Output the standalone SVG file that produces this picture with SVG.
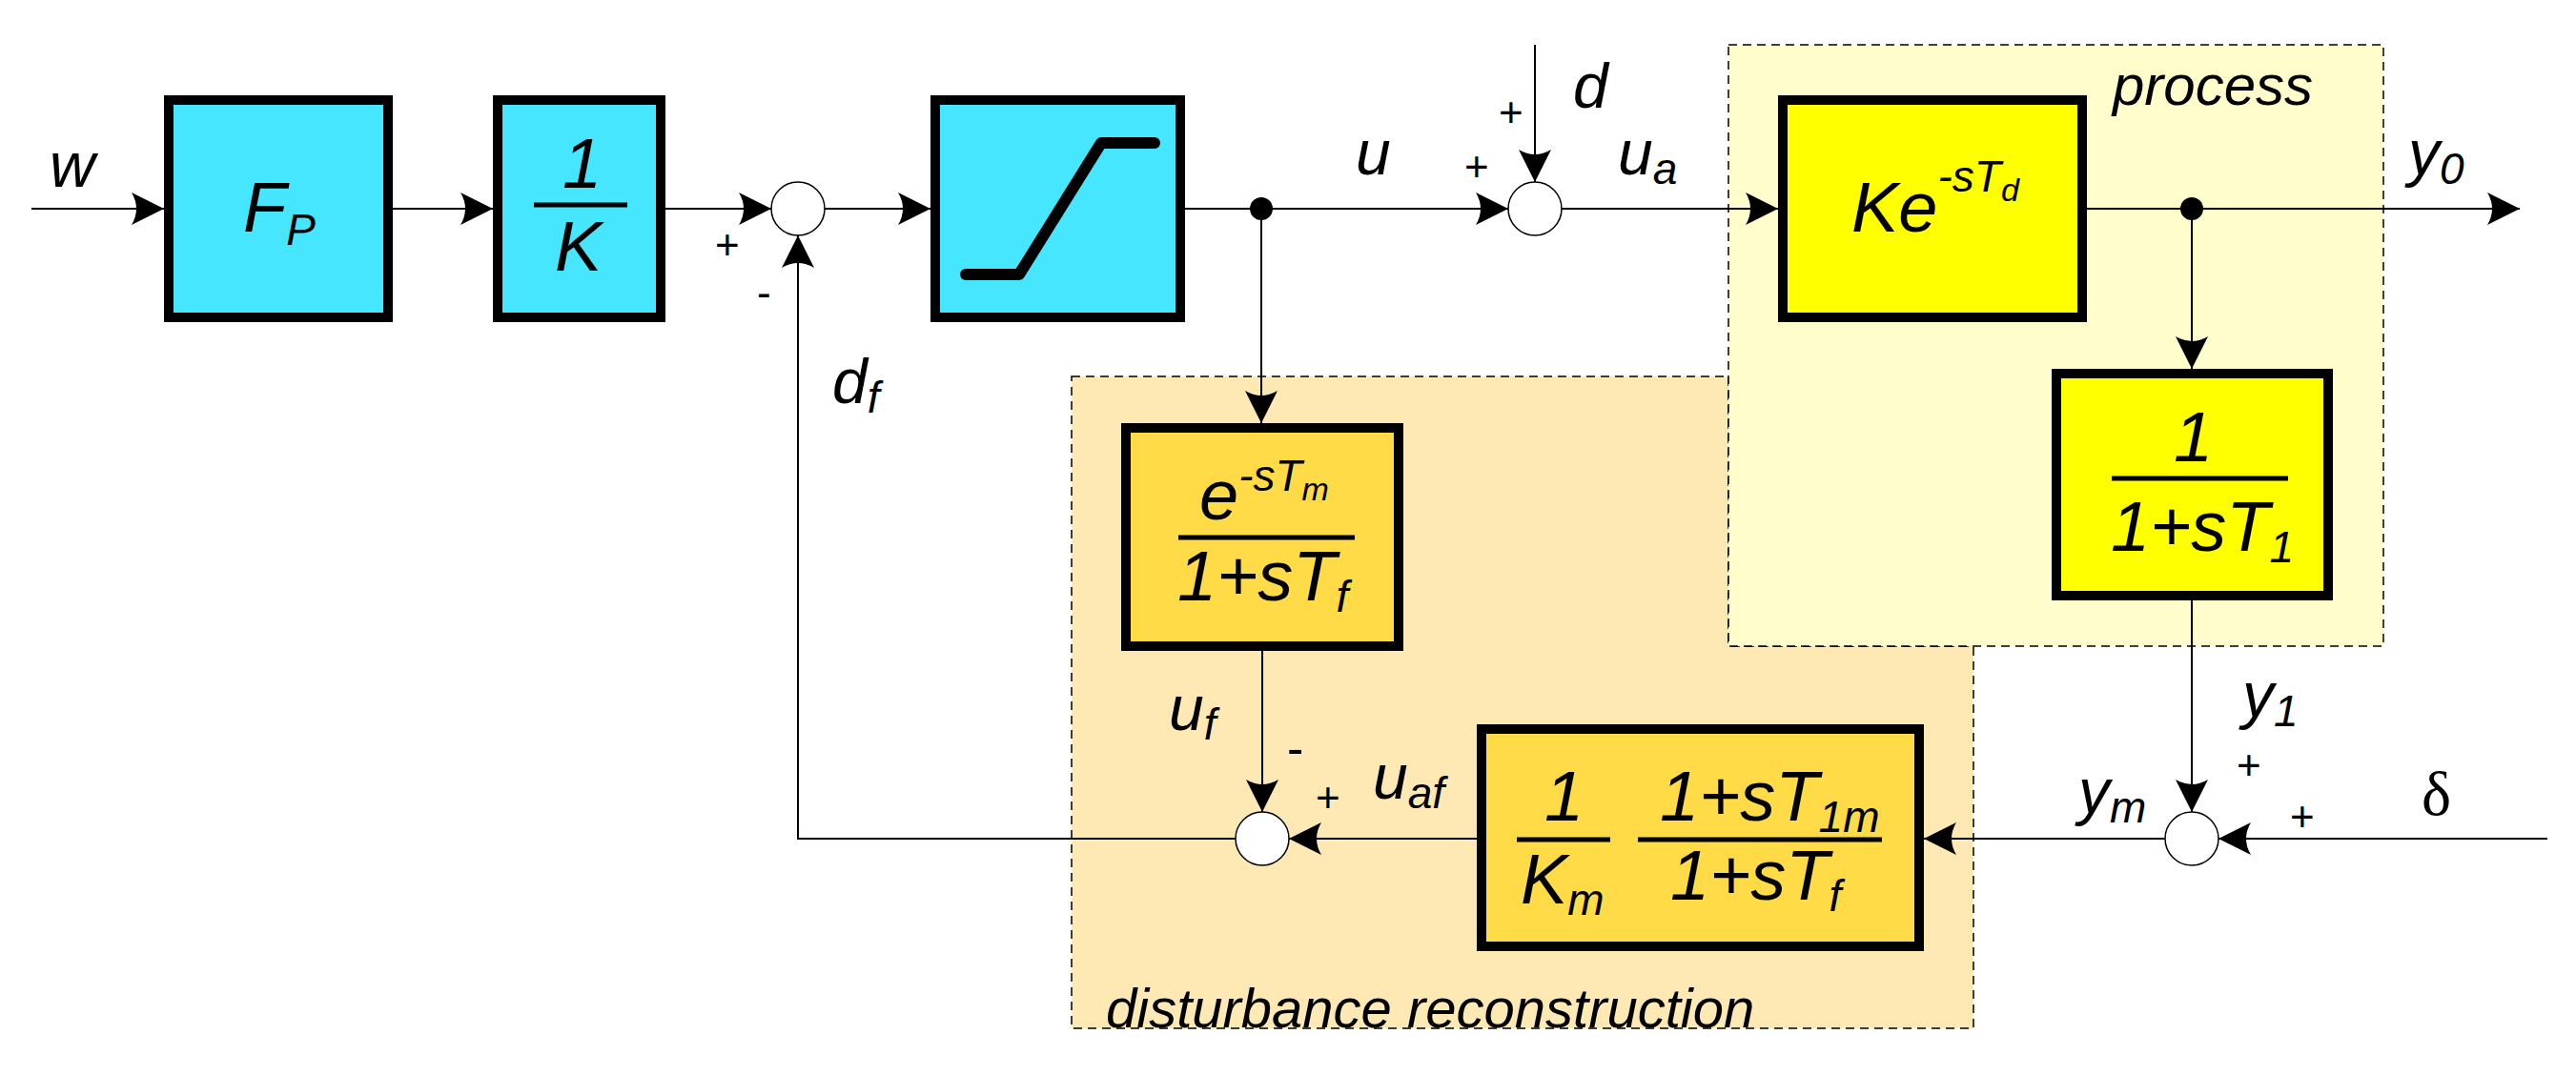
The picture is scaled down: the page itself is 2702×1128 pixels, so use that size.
<svg xmlns="http://www.w3.org/2000/svg" width="2702" height="1128" viewBox="0 0 2702 1128">
<style>
text{font-family:"Liberation Sans",Arial,sans-serif;font-style:italic;fill:#000}
.lbl{font-size:66px}
.big{font-size:74px}
.sub{font-size:46px}
.sgn{font-size:44px;font-style:normal}
.ln{stroke:#000;stroke-width:2;fill:none}
.cy{fill:#47E6FF;stroke:#000;stroke-width:10}
.ye{fill:#FFFF00;stroke:#000;stroke-width:10}
.or{fill:#FFDB48;stroke:#000;stroke-width:10}
.bar{stroke:#000;stroke-width:5}
.sum{fill:#fff;stroke:#000;stroke-width:1.5}
</style>
<defs>
<marker id="a" markerUnits="userSpaceOnUse" markerWidth="40" markerHeight="40" viewBox="-36 -20 40 40" refX="0" refY="0" orient="auto">
<path d="M0,0 L-34,-17 Q-24,0 -34,17 Z" fill="#000"/>
</marker>
</defs>
<g id="regions">
<polygon points="1124,395 1813,395 1813,678 2070,678 2070,1079 1124,1079" fill="#FEE8B4" stroke="#000" stroke-width="1.5" stroke-dasharray="9,6"/>
<rect x="1813" y="47" width="687" height="631" fill="#FFFDCC" stroke="#000" stroke-width="1.5" stroke-dasharray="9,6"/>
<text x="2216" y="110" style="font-size:60px">process</text>
<text x="1160" y="1078" style="font-size:58px">disturbance reconstruction</text>
</g>
<g id="connectors" class="ln">
<line x1="33" y1="219" x2="172" y2="219" marker-end="url(#a)"/>
<line x1="412" y1="219" x2="517" y2="219" marker-end="url(#a)"/>
<line x1="698" y1="219" x2="809" y2="219" marker-end="url(#a)"/>
<line x1="865" y1="219" x2="976" y2="219" marker-end="url(#a)"/>
<line x1="1243" y1="219" x2="1582" y2="219" marker-end="url(#a)"/>
<line x1="1638" y1="219" x2="1865" y2="219" marker-end="url(#a)"/>
<line x1="2189" y1="219" x2="2643" y2="219" marker-end="url(#a)"/>
<line x1="1610" y1="47" x2="1610" y2="191" marker-end="url(#a)"/>
<line x1="1323" y1="219" x2="1323" y2="444" marker-end="url(#a)"/>
<line x1="2299" y1="219" x2="2299" y2="387" marker-end="url(#a)"/>
<line x1="2299" y1="630" x2="2299" y2="852" marker-end="url(#a)"/>
<line x1="2672" y1="880" x2="2327" y2="880" marker-end="url(#a)"/>
<line x1="2271" y1="880" x2="2018" y2="880" marker-end="url(#a)"/>
<line x1="1549" y1="880" x2="1352" y2="880" marker-end="url(#a)"/>
<line x1="1324" y1="683" x2="1324" y2="852" marker-end="url(#a)"/>
<polyline points="1296,880 837,880 837,247" marker-end="url(#a)"/>
<circle cx="1323" cy="219" r="12" fill="#000" stroke="none"/>
<circle cx="2299" cy="219" r="12" fill="#000" stroke="none"/>
</g>
<g id="sum1"><circle class="sum" cx="837" cy="219" r="28"/>
<text class="sgn" x="750" y="272">+</text><text class="sgn" x="794" y="322">-</text></g>
<g id="sum2"><circle class="sum" cx="1610" cy="219" r="28"/>
<text class="sgn" x="1536" y="190">+</text><text class="sgn" x="1572" y="133">+</text></g>
<g id="sum3"><circle class="sum" cx="1324" cy="880" r="28"/>
<text class="sgn" x="1350" y="803" style="font-size:52px">-</text><text class="sgn" x="1380" y="852">+</text></g>
<g id="sum4"><circle class="sum" cx="2299" cy="880" r="28"/>
<text class="sgn" x="2346" y="818">+</text><text class="sgn" x="2402" y="872">+</text></g>
<g id="labels">
<text class="lbl" x="52" y="196">w</text>
<text class="lbl" x="1422" y="183">u</text>
<text class="lbl" x="1650" y="113">d</text>
<text class="lbl" x="1697" y="183">u<tspan class="sub" dy="10">a</tspan></text>
<text class="lbl" x="2526" y="183">y<tspan class="sub" dy="10">0</tspan></text>
<text class="lbl" x="873" y="423">d<tspan class="sub" dy="10">f</tspan></text>
<text class="lbl" x="1226" y="766">u<tspan class="sub" dy="10">f</tspan></text>
<text class="lbl" x="1440" y="838">u<tspan class="sub" dy="10">af</tspan></text>
<text class="lbl" x="2180" y="853">y<tspan class="sub" dy="10">m</tspan></text>
<text class="lbl" x="2352" y="752">y<tspan class="sub" dy="10">1</tspan></text>
<text class="lbl" x="2540" y="855" style="font-style:normal;font-family:'Liberation Serif',serif">δ</text>
</g>
<g id="FP"><rect class="cy" x="177" y="105" width="230" height="228"/>
<text class="big" x="255" y="243">F<tspan class="sub" dy="14">P</tspan></text></g>
<g id="invK"><rect class="cy" x="522" y="105" width="171" height="228"/>
<text class="big" x="590" y="197">1</text><line class="bar" x1="560" y1="215" x2="658" y2="215"/><text class="big" x="582" y="284">K</text></g>
<g id="sat"><rect class="cy" x="981" y="105" width="257" height="228"/>
<polyline points="1013,288 1069,288 1155,150 1211,150" fill="none" stroke="#000" stroke-width="12" stroke-linecap="round" stroke-linejoin="round"/></g>
<g id="process"><rect class="ye" x="1870" y="105" width="314" height="228"/>
<text class="big" x="1942" y="243">Ke<tspan class="sub" dy="-42">-sT</tspan><tspan style="font-size:34px" dy="10">d</tspan></text></g>
<g id="lag"><rect class="ye" x="2157" y="392" width="285" height="233"/>
<text class="big" x="2280" y="484">1</text><line class="bar" x1="2215" y1="502" x2="2400" y2="502"/>
<text class="big" x="2214" y="578">1+sT<tspan class="sub" dy="12">1</tspan></text></g>
<g id="filter"><rect class="or" x="1181" y="449" width="286" height="229"/>
<text class="big" x="1258" y="545">e<tspan class="sub" dy="-30">-sT</tspan><tspan style="font-size:34px" dy="10">m</tspan></text>
<line class="bar" x1="1236" y1="564" x2="1421" y2="564"/>
<text class="big" x="1235" y="630">1+sT<tspan class="sub" dy="12">f</tspan></text></g>
<g id="recon"><rect class="or" x="1554" y="765" width="459" height="228"/>
<text class="big" x="1620" y="861">1</text><line class="bar" x1="1591" y1="881" x2="1689" y2="881"/>
<text class="big" x="1595" y="948">K<tspan class="sub" dy="12">m</tspan></text>
<text class="big" x="1741" y="861">1+sT<tspan class="sub" dy="12">1m</tspan></text>
<line class="bar" x1="1718" y1="881" x2="1974" y2="881"/>
<text class="big" x="1752" y="944">1+sT<tspan class="sub" dy="12">f</tspan></text></g>
</svg>
